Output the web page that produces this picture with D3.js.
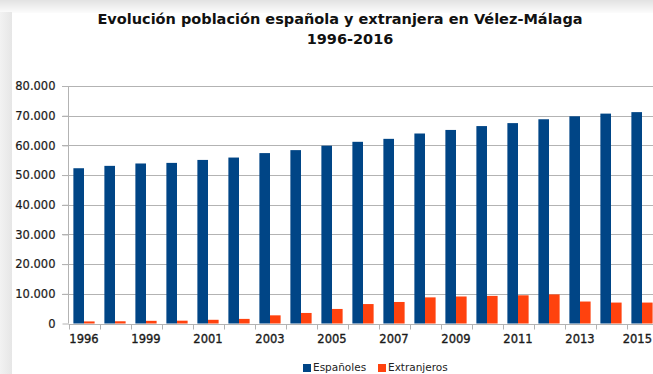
<!DOCTYPE html>
<html>
<head>
<meta charset="utf-8">
<script src="https://cdn.jsdelivr.net/npm/d3@7"></script>
<style>
  html, body { margin: 0; padding: 0; background: #ffffff; overflow: hidden; }
  svg { display: block; font-family: "DejaVu Sans", sans-serif; }
</style>
</head>
<body>
<svg id="chart" width="653" height="374"></svg>
<script>
// Padrón municipal de Vélez-Málaga (no hay dato de 1997)
const years = ["1996", "1998", "1999", "2000", "2001", "2002", "2003", "2004", "2005", "2006",
               "2007", "2008", "2009", "2010", "2011", "2012", "2013", "2014", "2015"];
const espanoles = [52300, 53100, 53900, 54100, 55100, 55900, 57400, 58400, 59900, 61200,
                   62200, 64000, 65200, 66500, 67500, 68800, 69800, 70700, 71200];
const extranjeros = [700, 750, 900, 950, 1250, 1550, 2750, 3550, 4900, 6550,
                     7250, 8800, 9100, 9300, 9500, 9800, 7400, 7050, 7050];
const seriesNames = ["Españoles", "Extranjeros"];
const seriesColors = ["#004586", "#ff420e"];
const yTicks = [0, 10000, 20000, 30000, 40000, 50000, 60000, 70000, 80000];
const labeledYears = ["1996", "1999", "2001", "2003", "2005", "2007", "2009", "2011", "2013", "2015"];

const svg = d3.select("#chart");
const W = 653, H = 374;

// soft frame shading along the top and left edges
const defs = svg.append("defs");
const gTop = defs.append("linearGradient").attr("id", "shadeTop").attr("x1", 0).attr("y1", 0).attr("x2", 0).attr("y2", 1);
gTop.append("stop").attr("offset", "0%").attr("stop-color", "#e2e2e2");
gTop.append("stop").attr("offset", "100%").attr("stop-color", "#fcfcfc");
const gLeft = defs.append("linearGradient").attr("id", "shadeLeft").attr("x1", 0).attr("y1", 0).attr("x2", 1).attr("y2", 0);
gLeft.append("stop").attr("offset", "0%").attr("stop-color", "#f2f2f2");
gLeft.append("stop").attr("offset", "100%").attr("stop-color", "#e6e6e6");

svg.append("rect").attr("x", 0).attr("y", 0).attr("width", W).attr("height", 13).attr("fill", "url(#shadeTop)");
svg.append("rect").attr("x", 0).attr("y", 12).attr("width", 12).attr("height", H - 12).attr("fill", "url(#shadeLeft)");

// title
const title = svg.append("text")
  .attr("text-anchor", "middle")
  .attr("font-weight", "bold")
  .attr("font-size", 14.5)
  .attr("fill", "#111");
title.append("tspan").attr("x", 340).attr("y", 24).text("Evolución población española y extranjera en Vélez-Málaga");
title.append("tspan").attr("x", 350).attr("y", 44).text("1996-2016");

// scales (the plot runs slightly past the right edge of the page)
const plotLeft = 68.5, plotRight = 657.5, plotTop = 86, plotBottom = 323.5;
const x = d3.scaleBand().domain(years).range([plotLeft, plotRight]).paddingInner(0).paddingOuter(0);
const inner = d3.scaleBand().domain(seriesNames).range([0, x.bandwidth()]).paddingInner(0).paddingOuter(0.46);
const y = d3.scaleLinear().domain([0, 80000]).range([plotBottom, plotTop]);

const fmt = d3.formatLocale({ decimal: ",", thousands: ".", grouping: [3], currency: ["", "€"] }).format(",.0f");

// grid lines
svg.append("g").selectAll("line").data(yTicks.filter(d => d > 0)).join("line")
  .attr("x1", 62).attr("x2", W)
  .attr("y1", d => Math.round(y(d)) + 0.5).attr("y2", d => Math.round(y(d)) + 0.5)
  .attr("stroke", "#b3b3b3").attr("stroke-width", 1);

// y axis
const yAxis = svg.append("g")
  .attr("transform", `translate(68.5,0)`)
  .call(d3.axisLeft(y).tickValues(yTicks).tickFormat(fmt).tickSize(6).tickPadding(7));
yAxis.select(".domain").attr("stroke", "#b3b3b3").attr("d", `M0,${plotTop}V${plotBottom}`);
yAxis.selectAll(".tick line").attr("stroke", "#b3b3b3");
yAxis.selectAll(".tick text").attr("font-size", 11.5).attr("fill", "#1a1a1a")
  .attr("stroke", "#1a1a1a").attr("stroke-width", 0.2)
  .attr("font-family", "DejaVu Sans, sans-serif");

// bars
const rows = years.map((yr, i) => ({ year: yr, values: [espanoles[i], extranjeros[i]] }));
const groups = svg.append("g").selectAll("g").data(rows).join("g")
  .attr("transform", d => `translate(${x(d.year)},0)`);
groups.selectAll("rect").data(d => d.values.map((v, k) => ({ name: seriesNames[k], value: v, k })))
  .join("rect")
  .attr("x", d => inner(d.name))
  .attr("width", inner.bandwidth())
  .attr("y", d => y(d.value))
  .attr("height", d => y(0) - y(d.value))
  .attr("fill", d => seriesColors[d.k]);

// x axis
const xAxisY = Math.round(plotBottom) + 0.5;
const xg = svg.append("g");
xg.append("line").attr("x1", plotLeft).attr("x2", W).attr("y1", xAxisY).attr("y2", xAxisY).attr("stroke", "#b3b3b3");
const boundaries = years.map(yr => x(yr)).concat([x(years[years.length - 1]) + x.bandwidth()]);
xg.selectAll("line.tk").data(boundaries).join("line").attr("class", "tk")
  .attr("x1", d => Math.round(d) + 0.5).attr("x2", d => Math.round(d) + 0.5)
  .attr("y1", xAxisY).attr("y2", xAxisY + 5).attr("stroke", "#b3b3b3");
// year labels centred under their band; the last one is kept inside the page
const lastLabel = labeledYears[labeledYears.length - 1];
xg.selectAll("text").data(labeledYears).join("text")
  .attr("x", d => d === lastLabel ? W - 1 : x(d) + x.bandwidth() / 2)
  .attr("y", 343)
  .attr("text-anchor", d => d === lastLabel ? "end" : "middle")
  .attr("font-size", 11.5)
  .attr("fill", "#1a1a1a")
  .attr("stroke", "#1a1a1a").attr("stroke-width", 0.35)
  .text(d => d);

// legend
const legendItems = [{ name: seriesNames[0], x: 303 }, { name: seriesNames[1], x: 378 }];
const lg = svg.append("g").selectAll("g").data(legendItems).join("g")
  .attr("transform", d => `translate(${d.x},0)`);
lg.append("rect").attr("x", 0).attr("y", 364).attr("width", 8).attr("height", 8)
  .attr("fill", (d, i) => seriesColors[i]);
lg.append("text").attr("x", 10).attr("y", 371).attr("font-size", 10.5).attr("fill", "#222")
  .text(d => d.name);
</script>
</body>
</html>
